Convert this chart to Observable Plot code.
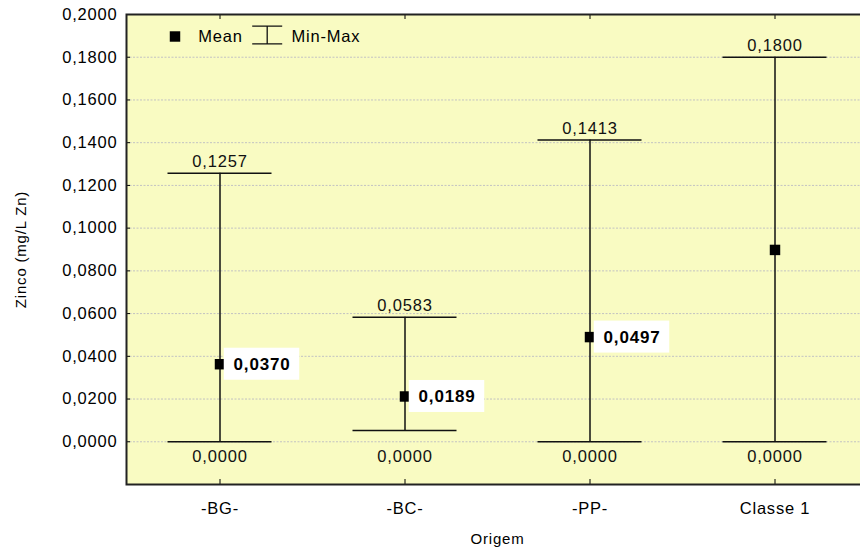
<!DOCTYPE html>
<html>
<head>
<meta charset="utf-8">
<script src="https://cdn.jsdelivr.net/npm/d3@7"></script>
<script src="https://cdn.jsdelivr.net/npm/@observablehq/plot@0.6"></script>
<style>
  html, body { margin: 0; padding: 0; background: #fff; overflow: hidden; }
  #chart svg { overflow: hidden; display: block; }
  #chart svg text.bold-label { letter-spacing: 0.4px; }
</style>
</head>
<body>
<div id="chart"></div>
<script>
// ---- data ----
const categories = ["-BG-", "-BC-", "-PP-", "Classe 1"];
const means      = [0.0363, 0.0212, 0.0490, 0.0898];          // plotted marker positions
const meanLabels = ["0,0370", "0,0189", "0,0497", null];      // printed mean values
const maxima     = [0.1257, 0.0583, 0.1413, 0.1800];
const minima     = [0.0000, 0.0000, 0.0000, 0.0000];          // printed minimum values
const whiskerLow = [0.0000, 0.0053, 0.0000, 0.0000];          // drawn lower cap
const yTicks     = [0, 0.02, 0.04, 0.06, 0.08, 0.10, 0.12, 0.14, 0.16, 0.18, 0.20];
const legendItems = ["Mean", "Min-Max"];
const yTitle = "Zinco (mg/L Zn)";
const xTitle = "Origem";

const fmt = v => v.toFixed(4).replace(".", ",");

const data = categories.map((c, i) => ({
  cat: c, mean: means[i], label: meanLabels[i],
  max: maxima[i], min: minima[i], low: whiskerLow[i]
}));
const labelled = data.filter(d => d.label);

const iBeam = {
  draw(ctx) {
    ctx.moveTo(-15, -8.8); ctx.lineTo(15, -8.8);
    ctx.moveTo(-15, 8.8);  ctx.lineTo(15, 8.8);
    ctx.moveTo(0, -8.8);   ctx.lineTo(0, 8.8);
  }
};

const chart = Plot.plot({
  width: 860,
  height: 551,
  marginLeft: 126,
  marginRight: -8,
  marginTop: 14,
  marginBottom: 67,
  style: {
    fontFamily: "'Liberation Sans', Arial, sans-serif",
    fontSize: "16.5px",
    letterSpacing: "0.8px",
    color: "#000",
    background: "#fff"
  },
  x: { type: "band", domain: categories, padding: 0, label: null },
  y: { domain: [-0.02, 0.2], label: null },
  marks: [
    Plot.frame({ fill: "#f9fbc2", stroke: null }),
    Plot.ruleY(yTicks.slice(0, -1), { stroke: "#c2c2c2", strokeDasharray: "2,1.5" }),
    Plot.axisY({ ticks: yTicks, tickFormat: fmt, tickSize: -4, tickPadding: 13, label: null }),
    Plot.axisX({ anchor: "bottom", tickSize: -5, tickPadding: 22.6, label: null }),
    Plot.axisX({ anchor: "top", tickSize: -4, tickFormat: () => "", label: null }),
    // whiskers
    Plot.ruleX(data, { x: "cat", y1: "low", y2: "max", stroke: "#111", strokeWidth: 1.5 }),
    Plot.tickY(data, { x: "cat", y: "max", insetLeft: 40.5, insetRight: 40.5, stroke: "#111", strokeWidth: 1.5 }),
    Plot.tickY(data, { x: "cat", y: "low", insetLeft: 40.5, insetRight: 40.5, stroke: "#111", strokeWidth: 1.5 }),
    // max / min labels
    Plot.text(data, { x: "cat", y: "max", text: d => fmt(d.max), lineAnchor: "bottom", dy: -6, fill: "#111" }),
    Plot.text(data, { x: "cat", y: "min", text: d => fmt(d.min), lineAnchor: "top", dy: 9, fill: "#111" }),
    // mean markers
    Plot.dot(data, { x: "cat", y: "mean", symbol: "square", r: 5.9, fill: "#000", stroke: null }),
    // mean label boxes
    Plot.barY(labelled, { x: "cat", y1: "mean", y2: "mean", insetLeft: 96.75, insetRight: 12.75, insetTop: -16, insetBottom: -16, fill: "#fff" }),
    Plot.text(labelled, { x: "cat", y: "mean", text: "label", dx: 42, lineAnchor: "middle", fontWeight: "bold", fontSize: 17, fill: "#000", className: "bold-label" }),
    // frame border
    Plot.frame({ stroke: "#222", strokeWidth: 2 }),
    // legend
    Plot.dot([legendItems[0]], { frameAnchor: "top-left", dx: 48.5, dy: 22, symbol: "square", r: 5.9, fill: "#000", stroke: null }),
    Plot.text([legendItems[0]], { frameAnchor: "top-left", dx: 71.7, dy: 22.5, textAnchor: "start", lineAnchor: "middle", text: d => d }),
    Plot.dot([legendItems[1]], { frameAnchor: "top-left", dx: 140.7, dy: 20.5, symbol: iBeam, r: 5, fill: "none", stroke: "#111", strokeWidth: 1.3 }),
    Plot.text([legendItems[1]], { frameAnchor: "top-left", dx: 165, dy: 22.5, textAnchor: "start", lineAnchor: "middle", text: d => d }),
    // axis titles
    Plot.text([yTitle], { frameAnchor: "left", dx: -105.5, rotate: -90, textAnchor: "middle", lineAnchor: "middle", fontSize: 15, text: d => d }),
    Plot.text([xTitle], { frameAnchor: "bottom", dy: 55, textAnchor: "middle", lineAnchor: "middle", fontSize: 15, text: d => d })
  ]
});
document.getElementById("chart").appendChild(chart);
</script>
</body>
</html>
